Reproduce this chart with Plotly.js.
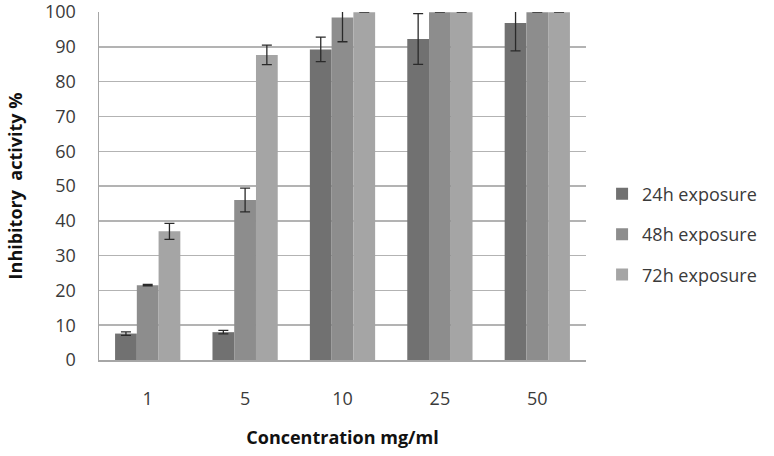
<!DOCTYPE html>
<html>
<head>
<meta charset="utf-8">
<script src="https://cdn.plot.ly/plotly-3.0.1.min.js"></script>
<style>html,body{margin:0;padding:0;background:#fff;}#chart{width:774px;height:456px;}</style>
</head>
<body>
<div id="chart"></div>
<script>
var categories = ['1', '5', '10', '25', '50'];
var seriesNames = ['24h exposure', '48h exposure', '72h exposure'];
var values24 = [7.6, 8.0, 89.3, 92.3, 96.9];
var errors24 = [0.5, 0.5, 3.5, 7.3, 8.0];
var values48 = [21.5, 46.0, 98.5, 100, 100];
var errors48 = [0.2, 3.4, 7.0, 0, 0];
var values72 = [37.0, 87.7, 100, 100, 100];
var errors72 = [2.3, 2.8, 0, 0, 0];
var yTicks = [0, 10, 20, 30, 40, 50, 60, 70, 80, 90, 100];
var colors = ['#717171', '#8d8d8d', '#a5a5a5'];

var vals = [values24, values48, values72];
var errs = [errors24, errors48, errors72];
var traces = vals.map(function (v, i) {
  return {
    type: 'bar',
    name: seriesNames[i],
    x: categories,
    y: v,
    legendgroup: 'g' + i,
    marker: {color: colors[i], line: {width: 0}},
    error_y: {type: 'data', array: errs[i], visible: true, color: '#2a2a2a', thickness: 1.3, width: 5}
  };
});

var tickFont = {family: 'Open Sans, sans-serif', size: 18, color: '#3a3a3a'};
var layout = {
  width: 774, height: 456,
  margin: {l: 99, r: 183, t: 12, b: 96},
  paper_bgcolor: '#ffffff', plot_bgcolor: '#ffffff',
  barmode: 'group', bargap: 0.33, bargroupgap: 0,
  showlegend: true,
  legend: {x: 1.033, xanchor: 'left', y: 0.53, yanchor: 'top', traceorder: 'grouped', tracegroupgap: 14,
           font: {family: 'Open Sans, sans-serif', size: 18, color: '#3a3a3a'}},
  xaxis: {
    type: 'category', showgrid: false, showline: true, linecolor: '#a6a6a6', linewidth: 1.5,
    ticks: '', tickfont: tickFont, ticklabelstandoff: 22,
    title: {text: 'Concentration mg/ml', font: {family: 'Open Sans, sans-serif', size: 18, color: '#111', weight: 'bold'}, standoff: 22}
  },
  yaxis: {
    range: [0, 100.05], tickmode: 'array', tickvals: yTicks, ticktext: yTicks.map(String),
    showgrid: true, gridcolor: '#b3b3b3', gridwidth: 1.5,
    showline: true, linecolor: '#a6a6a6', linewidth: 1.5, zeroline: false,
    ticks: '', tickfont: tickFont, ticklabelstandoff: 18, ticklabeloverflow: 'allow',
    title: {text: 'Inhibitory  activity %', font: {family: 'Open Sans, sans-serif', size: 18, color: '#111', weight: 'bold'}, standoff: 17}
  }
};
Plotly.newPlot('chart', traces, layout, {displayModeBar: false, staticPlot: true});
</script>
</body>
</html>
